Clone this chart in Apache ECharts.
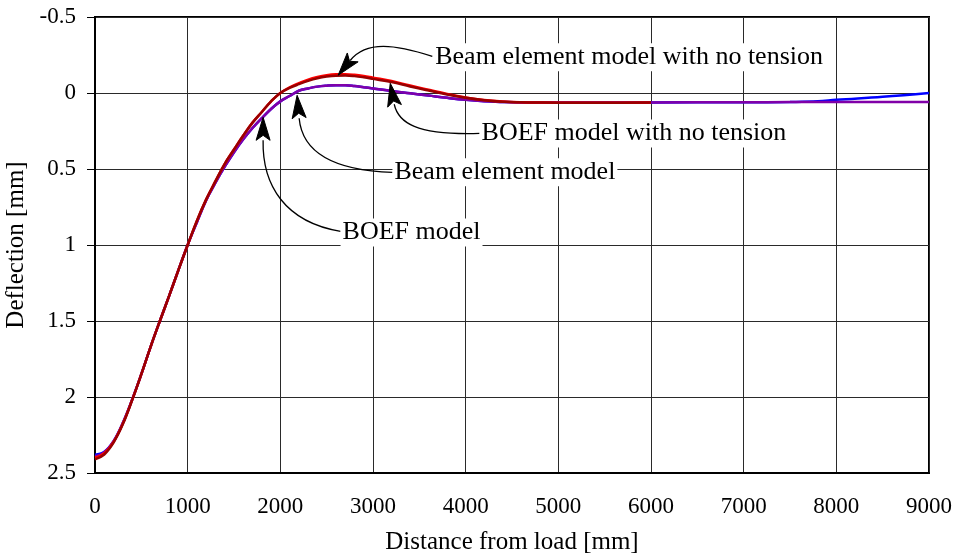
<!DOCTYPE html>
<html>
<head>
<meta charset="utf-8">
<script src="https://cdn.jsdelivr.net/npm/echarts@6/dist/echarts.min.js"></script>
<style>html,body{margin:0;padding:0;background:#fff;}#c{width:955px;height:554px;}</style>
</head>
<body>
<div id="c"></div>
<script>
// Upper curves (no tension models)
var xUpper = [0,100,200,300,400,500,600,700,800,900,1000,1100,1200,1300,1400,1500,1600,1700,1800,1900,2000,2100,2200,2300,2400,2500,2600,2700,2800,2900,3000,3200,3400,3600,3800,4000,4200,4400,4600,4800,5000,5500,6000];
var beamNoTension = [2.40,2.37,2.295,2.175,2.02,1.85,1.67,1.50,1.335,1.165,1.0,0.84,0.70,0.58,0.466,0.372,0.28,0.195,0.125,0.055,0.0,-0.037,-0.064,-0.088,-0.105,-0.117,-0.123,-0.124,-0.12,-0.112,-0.101,-0.079,-0.049,-0.021,0.006,0.029,0.046,0.056,0.061,0.063,0.064,0.064,0.063];
var boefNoTension = [2.41,2.378,2.30,2.18,2.022,1.85,1.67,1.50,1.335,1.165,1.0,0.84,0.70,0.58,0.466,0.372,0.28,0.195,0.125,0.055,0.0,-0.033,-0.058,-0.08,-0.097,-0.108,-0.114,-0.115,-0.111,-0.103,-0.093,-0.072,-0.043,-0.016,0.01,0.031,0.047,0.057,0.061,0.063,0.064,0.064,0.063];
// Lower curves (with tension)
var xLower = [0,100,200,300,400,500,600,700,800,900,1000,1100,1200,1300,1400,1500,1600,1700,1800,1900,2000,2100,2200,2300,2400,2500,2600,2700,2800,2900,3000,3200,3400,3600,3800,4000,4200,4400,4600,5000,6000,7000,7500,7800,8000,8500,9000];
var beamModel = [2.38,2.36,2.29,2.17,2.018,1.85,1.67,1.50,1.335,1.165,1.0,0.85,0.705,0.59,0.485,0.39,0.305,0.23,0.165,0.105,0.055,0.02,-0.015,-0.03,-0.042,-0.048,-0.051,-0.051,-0.046,-0.038,-0.03,-0.013,0.002,0.017,0.032,0.045,0.054,0.059,0.062,0.063,0.062,0.061,0.059,0.055,0.045,0.025,0.0];
var boefModel = [2.39,2.365,2.293,2.173,2.02,1.85,1.67,1.50,1.335,1.165,1.0,0.85,0.705,0.59,0.485,0.39,0.305,0.23,0.165,0.105,0.055,0.02,-0.015,-0.03,-0.042,-0.048,-0.051,-0.051,-0.046,-0.038,-0.03,-0.013,0.002,0.017,0.032,0.045,0.054,0.059,0.062,0.063,0.062,0.061,0.06,0.06,0.06,0.06,0.06];
var xTicks = [0,1000,2000,3000,4000,5000,6000,7000,8000,9000];
var yTicks = [-0.5,0,0.5,1,1.5,2,2.5];

// Annotations in data coordinates: label anchor, curve p0, cp1, cp2, p3 (arrow base), tip
var annLabels = ["Beam element model with no tension","BOEF model with no tension","Beam element model","BOEF model"];
var annAnchor = [[3650,-0.235],[4150,0.266],[3210,0.522],[2650,0.917]];
var annPath = [
  [[3640,-0.241],[3240,-0.32],[2927,-0.346],[2754,-0.214],[2624,-0.117]],
  [[4150,0.266],[3456,0.279],[3272,0.193],[3229,0.074],[3186,-0.064]],
  [[3210,0.522],[2538,0.509],[2235,0.377],[2203,0.166],[2181,0.015]],
  [[2650,0.91],[2052,0.85],[1803,0.607],[1814,0.311],[1814,0.16]]
];

function zip(xs, ys){ return xs.map(function(x,i){ return [x, ys[i]]; }); }

var FONT = '"Liberation Serif","Times New Roman",serif';
var chart = echarts.init(document.getElementById('c'), null, {renderer:'canvas'});
var option = {
  animation: false,
  backgroundColor: '#fff',
  grid: {left: 95, top: 17, width: 834, height: 456, containLabel: false, outerBoundsMode: 'none', show: true, borderColor: '#000', borderWidth: 2, backgroundColor: 'transparent'},
  xAxis: {
    type: 'value', min: 0, max: 9000, interval: 1000,
    name: 'Distance from load [mm]', nameLocation: 'middle', nameGap: 57,
    nameTextStyle: {fontFamily: FONT, fontSize: 25, color: '#000'},
    axisLine: {show: true, onZero: false, lineStyle: {color: '#000', width: 2}},
    axisTick: {show: false},
    axisLabel: {fontFamily: FONT, fontSize: 23, color: '#000', margin: 22,
      formatter: function(v){ return xTicks.indexOf(v) >= 0 ? String(v) : ''; }},
    splitLine: {show: true, lineStyle: {color: '#2a2a2a', width: 1}}
  },
  yAxis: {
    type: 'value', inverse: true, min: -0.5, max: 2.5, interval: 0.5,
    name: 'Deflection [mm]', nameLocation: 'middle', nameGap: 61, nameRotate: 90,
    nameTextStyle: {fontFamily: FONT, fontSize: 25, color: '#000'},
    axisLine: {show: true, onZero: false, lineStyle: {color: '#000', width: 2}},
    axisTick: {show: true, inside: false, length: 8, lineStyle: {color: '#000', width: 1}},
    axisLabel: {fontFamily: FONT, fontSize: 23, color: '#000', margin: 19,
      formatter: function(v){ return yTicks.indexOf(v) >= 0 ? String(v) : ''; }},
    splitLine: {show: true, lineStyle: {color: '#2a2a2a', width: 1}}
  },
  series: [
    {name: 'Beam element model', type: 'line', smooth: 0.4, showSymbol: false, data: zip(xLower, beamModel), lineStyle: {color: '#0000FF', width: 2.5}, itemStyle: {color: '#0000FF'}},
    {name: 'BOEF model', type: 'line', smooth: 0.4, showSymbol: false, data: zip(xLower, boefModel), lineStyle: {color: '#8000A8', width: 2.5}, itemStyle: {color: '#8000A8'}},
    {name: 'Beam element model with no tension', type: 'line', smooth: 0.4, showSymbol: false, data: zip(xUpper, beamNoTension), lineStyle: {color: '#FF0000', width: 2.5}, itemStyle: {color: '#FF0000'}},
    {name: 'BOEF model with no tension', type: 'line', smooth: 0.4, showSymbol: false, data: zip(xUpper, boefNoTension), lineStyle: {color: '#990000', width: 2.5}, itemStyle: {color: '#990000'}}
  ]
};
chart.setOption(option);

function px(p){ return chart.convertToPixel({gridIndex: 0}, p); }
var graphics = [];
annLabels.forEach(function(label, i){
  var a = px(annAnchor[i]);
  var pts = annPath[i].map(px);
  var p0 = pts[0], c1 = pts[1], c2 = pts[2], p3 = pts[3], tip = pts[4];
  graphics.push({type: 'bezierCurve', z: 100, silent: true,
    shape: {x1: p0[0], y1: p0[1], cpx1: c1[0], cpy1: c1[1], cpx2: c2[0], cpy2: c2[1], x2: p3[0], y2: p3[1]},
    style: {stroke: '#000', lineWidth: 1.3, fill: null}});
  var dx = tip[0]-p3[0], dy = tip[1]-p3[1];
  var L = Math.sqrt(dx*dx+dy*dy); var ux = dx/L, uy = dy/L;
  var len = 23, hw = 7;
  var bx = tip[0]-ux*len, by = tip[1]-uy*len;
  var nx = tip[0]-ux*(len-5), ny = tip[1]-uy*(len-5);
  graphics.push({type: 'polygon', z: 101, silent: true,
    shape: {points: [[tip[0],tip[1]],[bx-uy*hw, by+ux*hw],[nx,ny],[bx+uy*hw, by-ux*hw]]},
    style: {fill: '#000', stroke: '#000', lineWidth: 1}});
  graphics.push({type: 'text', z: 102, silent: true,
    style: {text: label, x: a[0], y: a[1], font: '26px ' + FONT, fill: '#000', align: 'left', verticalAlign: 'middle', backgroundColor: '#fff', padding: [1, 2, 1, 2]}});
});
chart.setOption({graphic: graphics});
</script>
</body>
</html>
